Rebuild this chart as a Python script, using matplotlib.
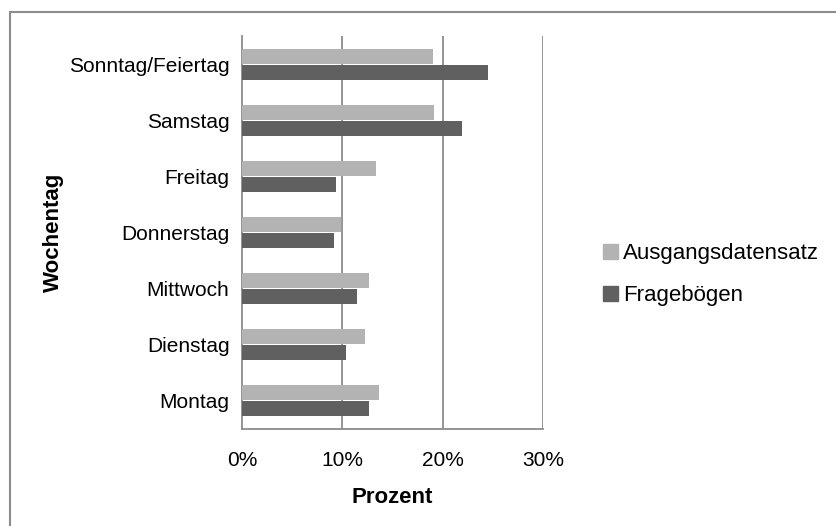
import matplotlib
matplotlib.use('Agg')
import matplotlib.pyplot as plt
from matplotlib.patches import Patch, Rectangle

plt.rcParams['font.family'] = ['Liberation Sans', 'DejaVu Sans']

# Anteile je Wochentag (in Prozent), von unten nach oben
tage = ['Montag', 'Dienstag', 'Mittwoch', 'Donnerstag', 'Freitag', 'Samstag', 'Sonntag/Feiertag']
ausgangsdatensatz = [13.7, 12.3, 12.7, 9.9, 13.4, 19.1, 19.0]
frageboegen = [12.7, 10.4, 11.5, 9.2, 9.4, 21.9, 24.5]
xticks = [0, 10, 20, 30]

hell = '#b3b3b3'
dunkel = '#606060'
grau = '#8c8c8c'

fig = plt.figure(figsize=(8.37, 5.26), dpi=100)
ax = fig.add_axes([242 / 837, 97 / 526, 301 / 837, 393 / 526])

pos = range(len(tage))
h = 0.265
ax.barh([p + h / 2 + 0.01 for p in pos], ausgangsdatensatz, height=h, color=hell, zorder=3)
ax.barh([p - h / 2 - 0.01 for p in pos], frageboegen, height=h, color=dunkel, zorder=3)

ax.set_xlim(0, 30)
ax.set_ylim(-0.5, len(tage) - 0.5)
ax.set_xticks(xticks)
ax.set_xticklabels([f'{t}%' for t in xticks], fontsize=15)
ax.set_yticks(list(pos))
ax.set_yticklabels(tage, fontsize=15)
ax.tick_params(length=0)
ax.tick_params(axis='x', pad=16)
ax.tick_params(axis='y', pad=9)

for x in xticks[1:]:
    ax.axvline(x, color=grau, lw=1.3, zorder=1)
for s in ['top', 'right']:
    ax.spines[s].set_visible(False)
for s in ['left', 'bottom']:
    ax.spines[s].set_color(grau)
    ax.spines[s].set_linewidth(1.3)

ax.set_xlabel('Prozent', fontsize=16, fontweight='bold', labelpad=12)
fig.text(53 / 837, 1 - 232 / 526, 'Wochentag', fontsize=16, fontweight='bold',
         rotation=90, ha='center', va='center')

handles = [Patch(color=hell, label='Ausgangsdatensatz'),
           Patch(color=dunkel, label='Fragebögen')]
fig.legend(handles=handles, loc='upper left', bbox_to_anchor=(592 / 837, 1 - 232 / 526),
           frameon=False, fontsize=16, handlelength=0.68, handleheight=0.68,
           handletextpad=0.2, labelspacing=0.95, borderpad=0)

# Rahmen um das Diagramm
fig.patches.append(Rectangle((10.5 / 837, -0.1), 1.2, 1 - 11.5 / 526 + 0.1,
                             transform=fig.transFigure, fill=False,
                             edgecolor=grau, lw=1.5))

fig.savefig('out.png', dpi=100)
